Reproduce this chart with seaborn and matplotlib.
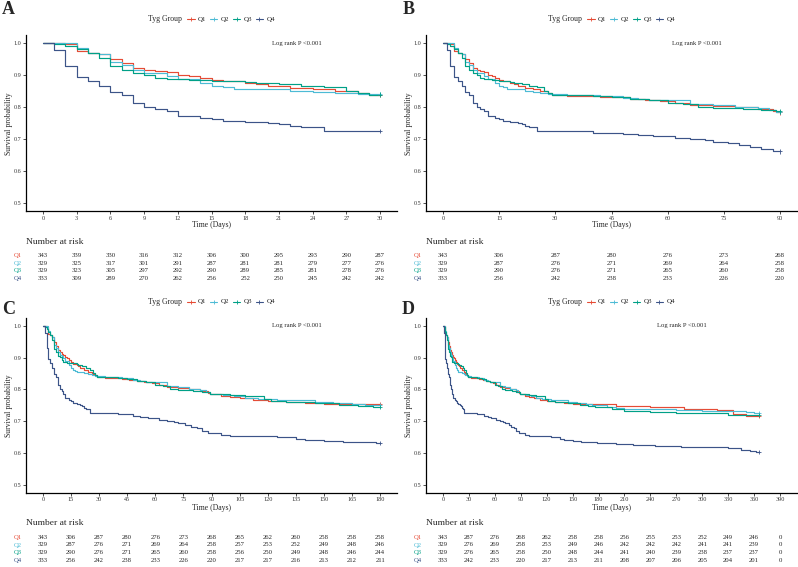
import numpy as np
import pandas as pd
import seaborn as sns
import matplotlib.pyplot as plt
from matplotlib.lines import Line2D
from matplotlib import transforms

groups = ["Q1", "Q2", "Q3", "Q4"]
colors = ["#E64B35", "#4DBBD5", "#00A087", "#3C5488"]

# Kaplan-Meier step points (days, survival)
q1_time = [0, 2, 3, 4, 5, 6, 7, 8, 9, 10, 11, 12, 13, 14, 15, 16, 18, 19, 20, 22, 24, 26, 28, 29,
           33, 38, 42, 46, 50, 54, 58, 62, 66, 72, 78, 84, 88, 89,
           95, 100, 105, 112, 120, 130, 140, 150, 165,
           200, 240, 279, 317, 336, 350]
q1_surv = [1.000, 0.997, 0.975, 0.971, 0.965, 0.950, 0.938, 0.923, 0.917, 0.913, 0.909, 0.902, 0.898,
           0.892, 0.885, 0.881, 0.877, 0.873, 0.867, 0.860, 0.856, 0.850, 0.846, 0.838,
           0.836, 0.835, 0.833, 0.831, 0.827, 0.823, 0.820, 0.815, 0.808, 0.805, 0.800, 0.796, 0.789, 0.784,
           0.780, 0.776, 0.772, 0.768, 0.764, 0.761, 0.758, 0.755, 0.753,
           0.749, 0.744, 0.738, 0.734, 0.723, 0.717]

q2_time = [0, 3, 4, 5, 6, 7, 8, 9, 10, 11, 12, 14, 15, 16, 17, 18, 22, 24, 26, 28,
           33, 42, 48, 52, 55, 66, 72, 78, 84, 87, 89,
           96, 102, 108, 115, 125, 135, 145, 155, 165, 172,
           190, 200, 210, 270, 300, 330, 350, 360]
q2_surv = [1.000, 0.984, 0.971, 0.965, 0.941, 0.931, 0.917, 0.908, 0.906, 0.898, 0.888, 0.877, 0.867,
           0.862, 0.858, 0.856, 0.852, 0.849, 0.846, 0.842,
           0.839, 0.836, 0.830, 0.826, 0.822, 0.810, 0.806, 0.802, 0.797, 0.792, 0.786,
           0.781, 0.778, 0.774, 0.770, 0.767, 0.765, 0.761, 0.757, 0.753, 0.750,
           0.744, 0.740, 0.737, 0.735, 0.733, 0.731, 0.728, 0.725]

q3_time = [0, 1, 2, 3, 4, 5, 6, 7, 8, 9, 10, 11, 13, 15, 18, 19, 21, 23, 25, 27, 28, 29,
           34, 40, 45, 50, 55, 60, 64, 68, 72, 80, 85, 89,
           95, 100, 108, 118, 122, 130, 145, 158, 168, 176,
           195, 210, 240, 270, 300, 330]
q3_surv = [1.000, 0.998, 0.990, 0.981, 0.971, 0.955, 0.928, 0.917, 0.906, 0.902, 0.892, 0.887, 0.884,
           0.882, 0.879, 0.877, 0.873, 0.867, 0.862, 0.852, 0.846, 0.840,
           0.838, 0.836, 0.833, 0.827, 0.823, 0.813, 0.810, 0.800, 0.797, 0.794, 0.792, 0.787,
           0.785, 0.782, 0.778, 0.770, 0.762, 0.759, 0.756, 0.752, 0.748, 0.744,
           0.738, 0.733, 0.730, 0.727, 0.724, 0.720]

q4_time = [0, 1, 2, 3, 4, 5, 6, 7, 8, 9, 10, 11, 12, 14, 15, 16, 18, 20, 21, 22, 23, 25,
           40, 48, 52, 56, 62, 66, 70, 72, 76, 79, 82, 85, 88,
           95, 100, 125, 135, 140, 150, 160, 170, 178,
           200, 220, 245, 275, 300, 330, 345, 355, 362]
q4_surv = [1.000, 0.979, 0.929, 0.895, 0.883, 0.868, 0.847, 0.839, 0.813, 0.800, 0.794, 0.787, 0.773,
           0.768, 0.763, 0.758, 0.754, 0.751, 0.748, 0.742, 0.737, 0.727,
           0.721, 0.716, 0.713, 0.709, 0.705, 0.701, 0.698, 0.693, 0.688, 0.682, 0.677, 0.669, 0.662,
           0.656, 0.652, 0.649, 0.645, 0.641, 0.638, 0.635, 0.633, 0.630,
           0.628, 0.625, 0.622, 0.619, 0.617, 0.614, 0.610, 0.606, 0.603]

curves = {"Q1": (q1_time, q1_surv), "Q2": (q2_time, q2_surv),
          "Q3": (q3_time, q3_surv), "Q4": (q4_time, q4_surv)}

# numbers at risk
a_times = [0, 3, 6, 9, 12, 15, 18, 21, 24, 27, 30]
a_risk = [[343, 339, 330, 316, 312, 306, 300, 295, 293, 290, 287],
          [329, 325, 317, 301, 291, 287, 281, 281, 279, 277, 276],
          [329, 323, 305, 297, 292, 290, 289, 285, 281, 278, 276],
          [333, 309, 289, 270, 262, 256, 252, 250, 245, 242, 242]]
b_times = [0, 15, 30, 45, 60, 75, 90]
b_risk = [[343, 306, 287, 280, 276, 273, 268],
          [329, 287, 276, 271, 269, 264, 258],
          [329, 290, 276, 271, 265, 260, 258],
          [333, 256, 242, 238, 233, 226, 220]]
c_times = [0, 15, 30, 45, 60, 75, 90, 105, 120, 135, 150, 165, 180]
c_risk = [[343, 306, 287, 280, 276, 273, 268, 265, 262, 260, 258, 258, 258],
          [329, 287, 276, 271, 269, 264, 258, 257, 253, 252, 249, 248, 246],
          [329, 290, 276, 271, 265, 260, 258, 256, 250, 249, 248, 246, 244],
          [333, 256, 242, 238, 233, 226, 220, 217, 217, 216, 213, 212, 211]]
d_times = [0, 30, 60, 90, 120, 150, 180, 210, 240, 270, 300, 330, 360, 390]
d_risk = [[343, 287, 276, 268, 262, 258, 258, 256, 255, 253, 252, 249, 246, 0],
          [329, 276, 269, 258, 253, 249, 246, 242, 242, 242, 241, 241, 239, 0],
          [329, 276, 265, 258, 250, 248, 244, 241, 240, 239, 238, 237, 237, 0],
          [333, 242, 233, 220, 217, 213, 211, 208, 207, 206, 205, 204, 201, 0]]

sns.set_style("ticks")
plt.rcParams["font.family"] = ["Liberation Serif", "DejaVu Serif"]

W, H = 798, 567
fig = plt.figure(figsize=(W / 100, H / 100), dpi=100)


def fx(px):
    return px / W


def fy(px):
    return 1 - px / H


panels = [
    dict(letter="A", tmax=30, ticks=a_times, risk=a_risk, lr_x=20.4, col=0, row=0),
    dict(letter="B", tmax=90, ticks=b_times, risk=b_risk, lr_x=61.2, col=1, row=0),
    dict(letter="C", tmax=180, ticks=c_times, risk=c_risk, lr_x=122.3, col=0, row=1),
    dict(letter="D", tmax=365, ticks=d_times, risk=d_risk, lr_x=248, col=1, row=1),
]

rows_layout = [
    dict(top=35.3, bottom=211.3, letter=9.5, legend=19.3, xlab=225.3, nar=242.3,
         table=[255.3, 263.1, 270.9, 278.7]),
    dict(top=318, bottom=492.5, letter=310, legend=302, xlab=507.7, nar=523.3,
         table=[537.3, 545.0, 552.6, 560.2]),
]

for p in panels:
    lay = rows_layout[p["row"]]
    off = 400 * p["col"]
    left, right = 26 + off, 397 + off
    ax = fig.add_axes([fx(left), fy(lay["bottom"]), fx(right - left), (lay["bottom"] - lay["top"]) / H])

    frames = []
    for g in groups:
        t, s = curves[g]
        t = np.array(t)
        s = np.array(s)
        keep = t <= p["tmax"]
        tt = list(t[keep]) + [p["tmax"]]
        ss = list(s[keep]) + [s[keep][-1]]
        frames.append(pd.DataFrame({"time": tt, "surv": ss, "group": g}))
    df = pd.concat(frames, ignore_index=True)

    sns.lineplot(data=df, x="time", y="surv", hue="group", hue_order=groups, palette=colors,
                 estimator=None, drawstyle="steps-post", linewidth=0.85, legend=False, ax=ax)
    ends = df.groupby("group").tail(1)
    sns.scatterplot(data=ends, x="time", y="surv", hue="group", hue_order=groups, palette=colors,
                    marker="+", s=9, linewidth=0.6, legend=False, ax=ax, zorder=3)

    span = p["ticks"][-1] - p["ticks"][0]
    ax.set_xlim(-0.05 * span, p["ticks"][-1] + 0.05 * span)
    ax.set_ylim(0.475, 1.025)
    ax.set_xticks(p["ticks"])
    ax.set_xticklabels([str(v) for v in p["ticks"]])
    ax.set_yticks([0.5, 0.6, 0.7, 0.8, 0.9, 1.0])
    ax.set_yticklabels(["0.5", "0.6", "0.7", "0.8", "0.9", "1.0"])
    ax.set_xlabel("")
    ax.set_ylabel("")
    ax.tick_params(labelsize=4.4, length=2, width=0.6, pad=1.5, colors="#333333")
    ax.set_facecolor("none")
    for side in ["left", "bottom"]:
        ax.spines[side].set_linewidth(0.9)
        ax.spines[side].set_color("black")
    sns.despine(ax=ax)

    ax.text(p["lr_x"], 1.0, "Log rank P <0.001", fontsize=4.8, ha="left", va="center")

    # titles
    fig.text(fx(8.5 + off), fy(lay["letter"]), p["letter"], fontsize=13, fontweight="bold",
             ha="center", va="center")
    fig.text(fx(9 + off), fy((lay["top"] + lay["bottom"]) / 2), "Survival probability",
             rotation=90, fontsize=5.6, ha="center", va="center")
    fig.text(fx((left + right) / 2), fy(lay["xlab"]), "Time (Days)", fontsize=5.6,
             ha="center", va="center")

    # legend
    fig.text(fx(148.3 + off), fy(lay["legend"]), "Tyg Group", fontsize=5.6, ha="left", va="center")
    for i, g in enumerate(groups):
        k0 = 187 + 22.9 * i + off
        fig.add_artist(Line2D([fx(k0), fx(k0 + 7.5)], [fy(lay["legend"])] * 2,
                              transform=fig.transFigure, color=colors[i], lw=0.8))
        fig.add_artist(Line2D([fx(k0 + 3.75)], [fy(lay["legend"])], transform=fig.transFigure,
                              color=colors[i], marker="+", markersize=3, mew=0.6, lw=0))
        fig.text(fx(k0 + 10.7), fy(lay["legend"]), g, fontsize=5.0, ha="left", va="center")

    # risk table
    fig.text(fx(26 + off), fy(lay["nar"]), "Number at risk", fontsize=6.8, ha="left", va="center")
    trans = transforms.blended_transform_factory(ax.transData, fig.transFigure)
    for i, g in enumerate(groups):
        y = fy(lay["table"][i])
        fig.text(fx(13.8 + off), y, g, fontsize=4.8, color=colors[i], ha="left", va="center")
        for t, n in zip(p["ticks"], p["risk"][i]):
            ax.text(t, y, str(n), transform=trans, fontsize=4.9, ha="center", va="center",
                    clip_on=False)

fig.savefig("out.png", dpi=100)
